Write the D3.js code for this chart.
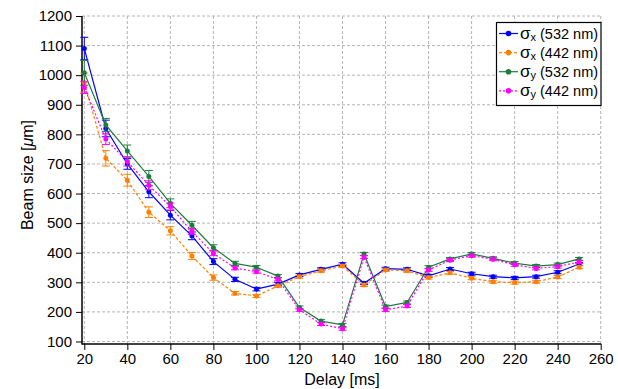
<!DOCTYPE html>
<html>
<head>
<meta charset="utf-8">
<script src="https://cdn.jsdelivr.net/npm/d3@7"></script>
<style>
  body { margin: 0; background: #fff; }
  svg { display: block; font-family: "Liberation Sans", Arial, sans-serif; }
</style>
</head>
<body>
<div id="chart"></div>
<script>
// delay values (ms)
var delays = [20, 30, 40, 50, 60, 70, 80, 90, 100, 110, 120, 130, 140, 150, 160, 170, 180, 190, 200, 210, 220, 230, 240, 250];

// beam sizes in um
var sx532 = [1090, 820, 700, 606, 527, 457, 370, 310, 277, 294, 325, 344, 361, 297, 346, 344, 322, 345, 329, 319, 315, 319, 334, 362];
var sx442 = [975, 719, 645, 537, 474, 389, 316, 263, 254, 288, 319, 339, 355, 291, 342, 339, 316, 332, 314, 302, 299, 302, 318, 351];
var sy532 = [1008, 832, 744, 658, 567, 493, 417, 364, 351, 321, 215, 169, 156, 396, 218, 232, 351, 379, 396, 381, 365, 355, 360, 379];
var sy442 = [958, 784, 708, 628, 556, 472, 398, 348, 336, 310, 207, 159, 143, 385, 207, 220, 342, 375, 390, 378, 359, 347, 353, 369];

// error bar half-heights
var ex532 = [38, 28, 18, 20, 16, 13, 10, 7, 6, 6, 5, 5, 5, 5, 5, 5, 5, 5, 5, 5, 5, 5, 5, 5];
var ex442 = [32, 26, 20, 18, 14, 12, 9, 6, 5, 5, 5, 5, 5, 5, 5, 5, 5, 5, 5, 5, 5, 5, 5, 5];
var ey532 = [42, 22, 20, 20, 15, 13, 10, 7, 6, 5, 5, 5, 5, 5, 5, 5, 5, 5, 5, 5, 5, 5, 5, 5];
var ey442 = [20, 18, 15, 15, 12, 10, 8, 6, 5, 5, 5, 5, 5, 5, 5, 5, 5, 5, 5, 5, 5, 5, 5, 5];

var xTicks = [20, 40, 60, 80, 100, 120, 140, 160, 180, 200, 220, 240, 260];
var yTicks = [100, 200, 300, 400, 500, 600, 700, 800, 900, 1000, 1100, 1200];

var series = [
  {sub: "x", label: " (532 nm)", vals: sx532, err: ex532, color: "#0000ff", dash: null},
  {sub: "x", label: " (442 nm)", vals: sx442, err: ex442, color: "#ff8000", dash: "3,2"},
  {sub: "y", label: " (532 nm)", vals: sy532, err: ey532, color: "#1e7d3c", dash: null},
  {sub: "y", label: " (442 nm)", vals: sy442, err: ey442, color: "#ff00ff", dash: "2,2"}
];

var W = 618, H = 389;
var svg = d3.select("#chart").append("svg").attr("width", W).attr("height", H);

var x = d3.scaleLinear().domain([20, 260]).range([84.3, 600.7]);
var y = d3.scaleLinear().domain([100, 1200]).range([341.5, 16]);
var axLeft = 82, axBottom = 344;
var fmt = d3.format("d");

// grid
var grid = svg.append("g").attr("stroke", "#b4b4b4").attr("stroke-width", 1).attr("stroke-dasharray", "3,2");
grid.selectAll(".gx").data(xTicks).enter().append("line")
  .attr("x1", d => x(d)).attr("x2", d => x(d)).attr("y1", y(1200)).attr("y2", axBottom);
grid.selectAll(".gy").data(yTicks).enter().append("line")
  .attr("x1", axLeft).attr("x2", x(260)).attr("y1", d => y(d)).attr("y2", d => y(d));

// axes
var gy = svg.append("g").attr("transform", "translate(" + axLeft + ",0)")
  .call(d3.axisLeft(y).tickValues(yTicks).tickFormat(fmt).tickSize(6).tickSizeOuter(0).tickPadding(4));
gy.select(".domain").remove();
gy.selectAll("text").attr("font-size", "15px").attr("fill", "#000").attr("font-family", "Liberation Sans, Arial, sans-serif");

var gx = svg.append("g").attr("transform", "translate(0," + axBottom + ")")
  .call(d3.axisBottom(x).tickValues(xTicks).tickFormat(fmt).tickSize(6).tickSizeOuter(0).tickPadding(3));
gx.select(".domain").remove();
gx.selectAll("text").attr("font-size", "15px").attr("fill", "#000").attr("font-family", "Liberation Sans, Arial, sans-serif");

svg.append("line").attr("x1", axLeft).attr("x2", axLeft).attr("y1", y(1200)).attr("y2", axBottom + 0.5)
  .attr("stroke", "#000").attr("stroke-width", 1.5);
svg.append("line").attr("x1", axLeft).attr("x2", x(260) + 0.5).attr("y1", axBottom).attr("y2", axBottom)
  .attr("stroke", "#000").attr("stroke-width", 1.5);

// axis titles
svg.append("text").attr("x", 342).attr("y", 385).attr("text-anchor", "middle")
  .attr("font-size", "16px").text("Delay [ms]");
var yt = svg.append("text").attr("transform", "translate(33,175) rotate(-90)")
  .attr("text-anchor", "middle").attr("font-size", "16px");
yt.append("tspan").text("Beam size [");
yt.append("tspan").attr("font-style", "italic").text("\u03bc");
yt.append("tspan").text("m]");

// series
var line = d3.line().x((d, i) => x(delays[i])).y(d => y(d));
series.forEach(function(s) {
  var g = svg.append("g");
  g.append("path").datum(s.vals).attr("d", line).attr("fill", "none")
    .attr("stroke", s.color).attr("stroke-width", 1.2).attr("stroke-dasharray", s.dash);
  var eb = g.selectAll(".eb").data(s.vals).enter().append("g").attr("stroke", s.color).attr("stroke-width", 1);
  eb.append("line").attr("x1", (d, i) => x(delays[i])).attr("x2", (d, i) => x(delays[i]))
    .attr("y1", (d, i) => y(d - s.err[i])).attr("y2", (d, i) => y(d + s.err[i]));
  eb.append("line").attr("x1", (d, i) => x(delays[i]) - 4).attr("x2", (d, i) => x(delays[i]) + 4)
    .attr("y1", (d, i) => y(d + s.err[i])).attr("y2", (d, i) => y(d + s.err[i]));
  eb.append("line").attr("x1", (d, i) => x(delays[i]) - 4).attr("x2", (d, i) => x(delays[i]) + 4)
    .attr("y1", (d, i) => y(d - s.err[i])).attr("y2", (d, i) => y(d - s.err[i]));
  g.selectAll("circle").data(s.vals).enter().append("circle")
    .attr("cx", (d, i) => x(delays[i])).attr("cy", d => y(d)).attr("r", 2.5).attr("fill", s.color);
});

// legend
var lg = svg.append("g").attr("transform", "translate(496,22)");
lg.append("rect").attr("x", 0.5).attr("y", 0.5).attr("width", 104.5).attr("height", 83)
  .attr("fill", "#fff").attr("stroke", "#000").attr("stroke-width", 1.2);
series.forEach(function(s, i) {
  var ly = 11.5 + i * 19.1;
  lg.append("line").attr("x1", 3).attr("x2", 22).attr("y1", ly).attr("y2", ly)
    .attr("stroke", s.color).attr("stroke-width", 1.2).attr("stroke-dasharray", s.dash);
  lg.append("circle").attr("cx", 12.5).attr("cy", ly).attr("r", 2.8).attr("fill", s.color);
  var t = lg.append("text").attr("x", 24).attr("y", ly + 5).attr("font-size", "14.5px");
  t.append("tspan").attr("font-size", "17px").text("\u03c3");
  t.append("tspan").attr("font-size", "11px").attr("dy", 2).text(s.sub);
  t.append("tspan").attr("dy", -2).text(s.label);
});
</script>
</body>
</html>
